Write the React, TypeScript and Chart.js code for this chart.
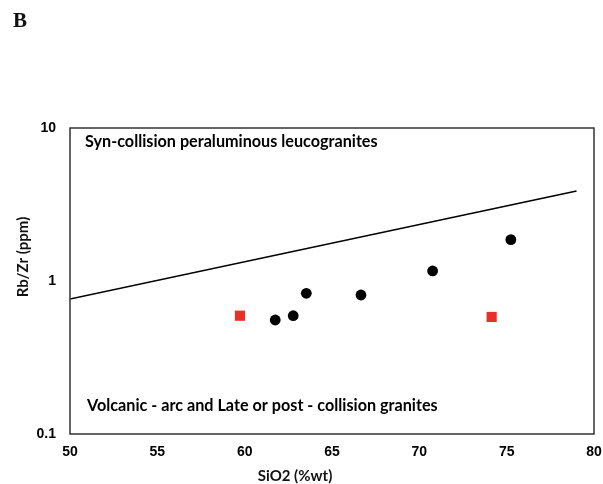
import React, { useEffect, useRef } from "react";
import { Chart, registerables } from "chart.js";

Chart.register(...registerables);

// Data
const sampleSiO2 = [61.75, 62.78, 63.53, 66.66, 70.76, 75.24];
const sampleRbZr = [0.556, 0.593, 0.831, 0.81, 1.163, 1.862];
const redSiO2 = [59.73, 74.14];
const redRbZr = [0.593, 0.582];
const boundarySiO2 = [50, 79];
const boundaryRbZr = [0.763, 3.87];
const yTickValues = [0.1, 1, 10];
const panelLabel = "B";
const xTitle = "SiO2 (%wt)";
const yTitle = "Rb/Zr (ppm)";
const upperFieldLabel = "Syn-collision peraluminous leucogranites";
const lowerFieldLabel = "Volcanic - arc and Late or post - collision granites";

const toXY = (xs: number[], ys: number[]) => xs.map((x, i) => ({ x, y: ys[i] }));

const decorPlugin = {
  id: "decor",
  afterDraw(chart: any) {
    const { ctx, chartArea } = chart;
    const { left, right, top, bottom } = chartArea;
    ctx.save();
    // frame
    ctx.strokeStyle = "#333333";
    ctx.lineWidth = 1.5;
    ctx.strokeRect(left, top, right - left, bottom - top);

    // panel label
    ctx.fillStyle = "#111111";
    ctx.font = "bold 21px 'Liberation Serif', serif";
    ctx.textAlign = "left";
    ctx.textBaseline = "alphabetic";
    ctx.fillText(panelLabel, 13, 27);

    // field labels
    ctx.fillStyle = "#000000";
    ctx.font = "bold 16.2px Lato, sans-serif";
    ctx.textBaseline = "alphabetic";
    ctx.fillText(upperFieldLabel, 85, 147);
    ctx.fillText(lowerFieldLabel, 87, 411);

    // axis titles
    ctx.font = "bold 15px Lato, sans-serif";
    ctx.textAlign = "center";
    ctx.textBaseline = "middle";
    ctx.fillStyle = "#111111";
    ctx.fillText(xTitle, 295, 476);
    ctx.translate(23, 257);
    ctx.rotate(-Math.PI / 2);
    ctx.fillText(yTitle, 0, 0);
    ctx.restore();
  },
};

export default function App() {
  const ref = useRef<HTMLCanvasElement | null>(null);
  useEffect(() => {
    if (!ref.current) return;
    const tickFont = { family: "Arial, 'Liberation Sans', sans-serif", size: 14, weight: "bold" as const };
    const chart = new Chart(ref.current, {
      type: "scatter",
      data: {
        datasets: [
          {
            label: "Boundary",
            data: toXY(boundarySiO2, boundaryRbZr),
            showLine: true,
            borderColor: "#000000",
            borderWidth: 1.6,
            pointRadius: 0,
            fill: false,
          },
          {
            label: "Samples",
            data: toXY(sampleSiO2, sampleRbZr),
            pointStyle: "circle",
            pointRadius: 5.4,
            backgroundColor: "#000000",
            borderColor: "#000000",
            borderWidth: 0,
          },
          {
            label: "Red",
            data: toXY(redSiO2, redRbZr),
            pointStyle: "rect",
            pointRadius: 7.2,
            backgroundColor: "#e8302b",
            borderColor: "#e8302b",
            borderWidth: 0,
          },
        ],
      },
      options: {
        animation: false,
        responsive: false,
        maintainAspectRatio: false,
        layout: { padding: { top: 128, right: 9, left: 0, bottom: 0 } },
        plugins: {
          legend: { display: false },
          tooltip: { enabled: false },
          title: { display: false },
        },
        scales: {
          x: {
            type: "linear",
            min: 50,
            max: 80,
            grid: { display: false, drawTicks: false },
            border: { display: false },
            ticks: {
              stepSize: 5,
              padding: 10,
              color: "#000000",
              font: tickFont,
              maxRotation: 0,
            },
            afterFit: (s: any) => {
              s.height = 50;
              s.paddingLeft = 0;
              s.paddingRight = 0;
            },
          },
          y: {
            type: "logarithmic",
            min: 0.1,
            max: 10,
            grid: { display: false, drawTicks: false },
            border: { display: false },
            afterBuildTicks: (s: any) => {
              s.ticks = yTickValues.map((v) => ({ value: v }));
            },
            ticks: {
              padding: 14,
              color: "#000000",
              font: tickFont,
              callback: (v: any) => String(v),
            },
            afterFit: (s: any) => {
              s.width = 70;
              s.paddingTop = 0;
              s.paddingBottom = 0;
            },
          },
        },
      },
      plugins: [decorPlugin],
    });
    return () => chart.destroy();
  }, []);
  return (
    <div style={{ position: "fixed", left: 0, top: 0, width: 603, height: 484, background: "#fff" }}>
      <canvas ref={ref} width={603} height={484} style={{ width: 603, height: 484, display: "block" }} />
    </div>
  );
}
